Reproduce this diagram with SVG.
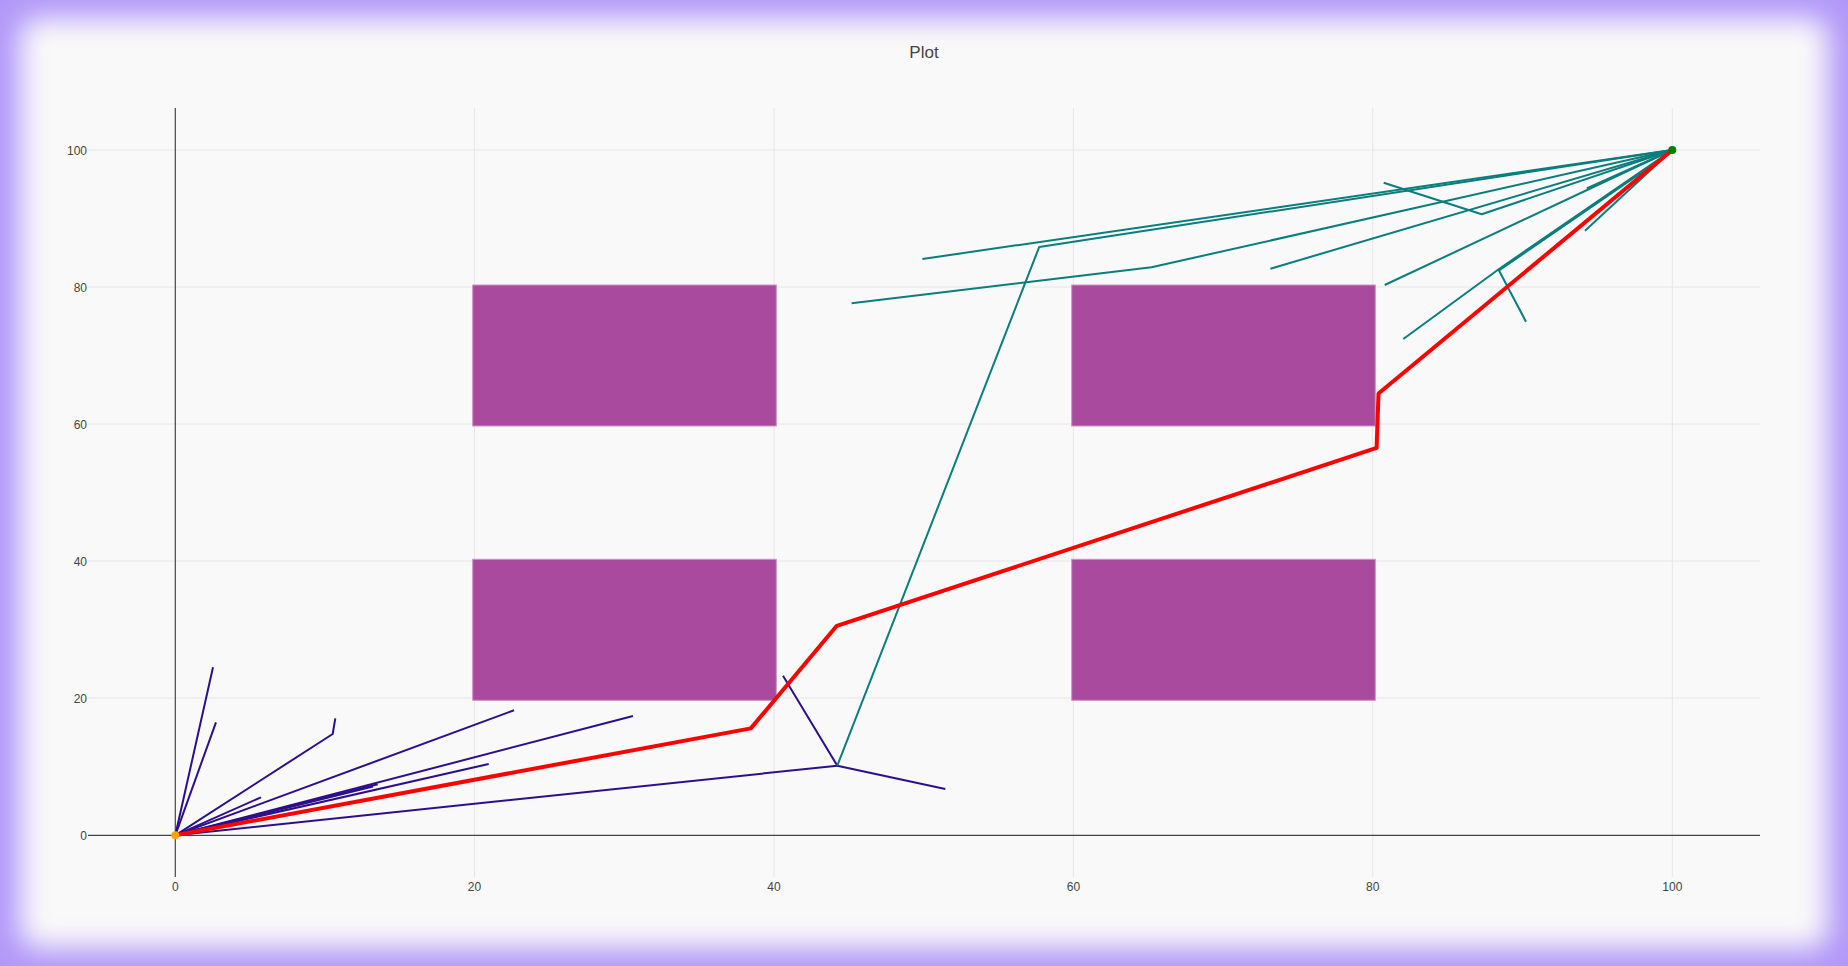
<svg xmlns="http://www.w3.org/2000/svg" width="1848" height="966" viewBox="0 0 1848 966">
<defs>
<filter id="soft" x="-5%" y="-5%" width="110%" height="110%"><feGaussianBlur stdDeviation="14"/></filter>
<style>
.grid{stroke:#e6e6e6;stroke-width:1;fill:none}
.zero{stroke:#444;stroke-width:1.2;fill:none}
.lbl{font-family:"Liberation Sans",Arial,sans-serif;font-size:12px;fill:#444}
.obs{fill:#aa4a9f;stroke:#c994c3;stroke-width:1}
.pl{stroke:#2d0f8c;stroke-width:2;fill:none;stroke-linejoin:round}
.tl{stroke:#0a7d7d;stroke-width:2;fill:none;stroke-linejoin:round}
.red{stroke:#ff0000;stroke-width:4;fill:none;stroke-linejoin:round}
</style>
</defs>
<rect x="0" y="0" width="1848" height="966" fill="#b198f8"/>
<rect x="20" y="18" width="1808" height="930" rx="18" fill="#f9f9f9" filter="url(#soft)"/>
<text x="924" y="58" text-anchor="middle" style="font-family:'Liberation Sans',Arial,sans-serif;font-size:17px;fill:#444">Plot</text>
<g id="grid">
<line class="grid" x1="474.5" y1="108" x2="474.5" y2="877"/>
<line class="grid" x1="774" y1="108" x2="774" y2="877"/>
<line class="grid" x1="1073.4" y1="108" x2="1073.4" y2="877"/>
<line class="grid" x1="1372.8" y1="108" x2="1372.8" y2="877"/>
<line class="grid" x1="1672.3" y1="108" x2="1672.3" y2="877"/>
<line class="grid" x1="88" y1="150" x2="1760" y2="150"/>
<line class="grid" x1="88" y1="287" x2="1760" y2="287"/>
<line class="grid" x1="88" y1="424" x2="1760" y2="424"/>
<line class="grid" x1="88" y1="561" x2="1760" y2="561"/>
<line class="grid" x1="88" y1="698" x2="1760" y2="698"/>
</g>
<g id="obstacles">
<rect id="obs1" class="obs" x="472.7" y="285" width="303.6" height="141"/>
<rect id="obs2" class="obs" x="472.7" y="559.3" width="303.6" height="141"/>
<rect id="obs3" class="obs" x="1071.7" y="285" width="303.6" height="141"/>
<rect id="obs4" class="obs" x="1071.7" y="559.3" width="303.6" height="141"/>
</g>
<g id="axes">
<line class="zero" x1="175.3" y1="108" x2="175.3" y2="877"/>
<line class="zero" x1="88" y1="835.3" x2="1760" y2="835.3"/>
<g class="lbl" text-anchor="middle">
<text x="175.3" y="891">0</text>
<text x="474.5" y="891">20</text>
<text x="774" y="891">40</text>
<text x="1073.4" y="891">60</text>
<text x="1372.8" y="891">80</text>
<text x="1672.3" y="891">100</text>
</g>
<g class="lbl" text-anchor="end">
<text x="87" y="839.5">0</text>
<text x="87" y="702.5">20</text>
<text x="87" y="565.5">40</text>
<text x="87" y="428.5">60</text>
<text x="87" y="291.5">80</text>
<text x="87" y="154.5">100</text>
</g>
</g>
<g id="connectors">
<g id="start-tree">
<polyline class="pl" points="175.3,835.3 213,667.3"/>
<polyline class="pl" points="175.3,835.3 216,722.3"/>
<polyline class="pl" points="175.3,835.3 332.7,734 335.3,718.3"/>
<polyline class="pl" points="175.3,835.3 261,797.3"/>
<polyline class="pl" points="175.3,835.3 514,710.3"/>
<polyline class="pl" points="175.3,835.3 633,716"/>
<polyline class="pl" points="175.3,835.3 488.7,764"/>
<polyline class="pl" points="175.3,835.3 377.7,784.3"/>
<polyline class="pl" points="175.3,835.3 373,786.5"/>
<polyline class="pl" points="175.3,835.3 837.3,765.7 783,675.7"/>
<polyline class="pl" points="837.3,765.7 945.3,789"/>
</g>
<g id="goal-tree">
<polyline class="tl" points="922.4,259 1672.3,150"/>
<polyline class="tl" points="837.3,765.7 1039.2,247 1672.3,150"/>
<polyline class="tl" points="851.6,303.3 1151.5,267.3 1672.3,150"/>
<polyline class="tl" points="1270.4,268.7 1672.3,150"/>
<polyline class="tl" points="1383.7,182.7 1481.7,214.3 1672.3,150"/>
<polyline class="tl" points="1384.7,285 1672.3,150"/>
<polyline class="tl" points="1403.3,339 1499,269 1672.3,150"/>
<polyline class="tl" points="1526,321.7 1499,270.5 1672.3,151.5"/>
<polyline class="tl" points="1585,230.7 1672.3,150"/>
<polyline class="tl" points="1586.7,188.3 1672.3,150"/>
</g>
<polyline id="path" class="red" points="175.3,835.3 750.8,728.4 836.8,625.8 1376.6,447.9 1378.5,393.5 1672.3,150"/>
</g>
<g id="start"><circle cx="175.3" cy="835.3" r="4" fill="#ffa500"/></g>
<g id="goal"><circle cx="1672.3" cy="150" r="4" fill="#008000"/></g>
</svg>
